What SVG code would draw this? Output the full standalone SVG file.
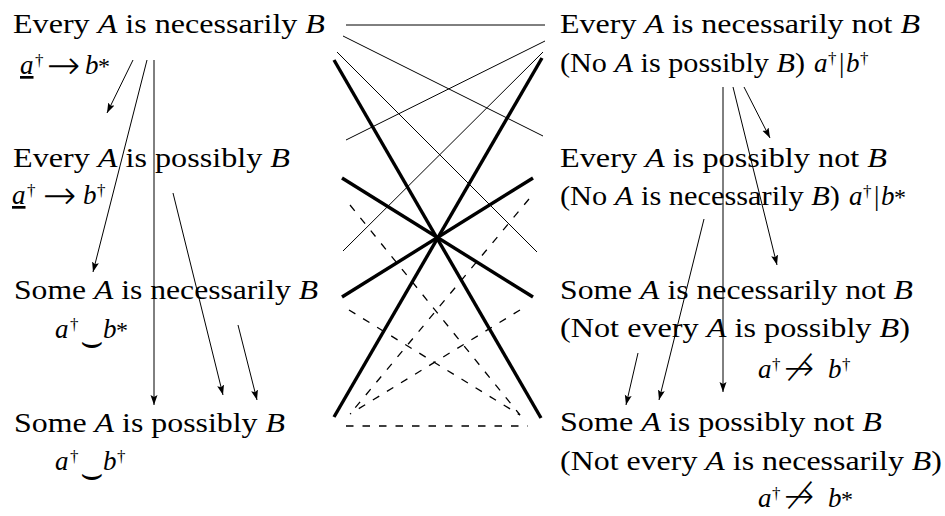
<svg xmlns="http://www.w3.org/2000/svg" width="945" height="516" viewBox="0 0 945 516" font-family="'Liberation Serif', serif">
<style>
.t{font-size:27px;fill:#000}
.i{font-style:italic}
.sup{font-size:17px;font-style:normal}
.ast{font-size:24px;font-style:normal}
.arr{font-size:40px;font-style:normal;font-weight:200}
.narr{font-size:36px;font-style:normal;font-weight:200}
.smile{font-size:36px;font-style:normal;font-weight:200}
.ln{stroke:#000;fill:none;stroke-width:1}
.thick{stroke-width:3.4}
.dash{stroke-width:1.3;stroke-dasharray:7.5 9}
.ar{marker-end:url(#ah)}
</style>
<defs>
<marker id="ah" markerUnits="userSpaceOnUse" markerWidth="11" markerHeight="8" refX="10" refY="3.5" orient="auto">
<path d="M0,0 L10,3.5 L0,7 L2,3.5 z" fill="#000"/>
</marker>
</defs>

<g id="node-every-nec" font-family="'Liberation Serif', serif">
<text class="t" x="13" y="33" textLength="312" lengthAdjust="spacingAndGlyphs">Every <tspan class="i">A</tspan> is necessarily <tspan class="i">B</tspan></text>
<text class="t"><tspan class="i" x="20" y="74" text-decoration="underline">a</tspan><tspan class="sup" x="35" y="66">†</tspan><tspan class="arr" font-family="'DejaVu Sans', sans-serif" x="47" y="79">→</tspan><tspan class="i" x="85" y="74">b</tspan><tspan class="ast" x="98" y="74">*</tspan></text>
</g>

<g id="node-every-poss" font-family="'Liberation Serif', serif">
<text class="t" x="13" y="167" textLength="277" lengthAdjust="spacingAndGlyphs">Every <tspan class="i">A</tspan> is possibly <tspan class="i">B</tspan></text>
<text class="t"><tspan class="i" x="12" y="204" text-decoration="underline">a</tspan><tspan class="sup" x="27" y="196">†</tspan><tspan class="arr" font-family="'DejaVu Sans', sans-serif" x="43" y="209">→</tspan><tspan class="i" x="83" y="204">b</tspan><tspan class="sup" x="97" y="196">†</tspan></text>
</g>

<g id="node-some-nec" font-family="'Liberation Serif', serif">
<text class="t" x="14" y="299" textLength="304" lengthAdjust="spacingAndGlyphs">Some <tspan class="i">A</tspan> is necessarily <tspan class="i">B</tspan></text>
<text class="t"><tspan class="i" x="55" y="338">a</tspan><tspan class="sup" x="70" y="330">†</tspan><tspan class="smile" font-family="'DejaVu Sans', sans-serif" x="80" y="353">⌣</tspan><tspan class="i" x="103" y="338">b</tspan><tspan class="ast" x="116" y="338">*</tspan></text>
</g>

<g id="node-some-poss" font-family="'Liberation Serif', serif">
<text class="t" x="14" y="432" textLength="271" lengthAdjust="spacingAndGlyphs">Some <tspan class="i">A</tspan> is possibly <tspan class="i">B</tspan></text>
<text class="t"><tspan class="i" x="55" y="470">a</tspan><tspan class="sup" x="70" y="462">†</tspan><tspan class="smile" font-family="'DejaVu Sans', sans-serif" x="80" y="485">⌣</tspan><tspan class="i" x="103" y="470">b</tspan><tspan class="sup" x="117" y="462">†</tspan></text>
</g>

<g id="node-every-nec-not" font-family="'Liberation Serif', serif">
<text class="t" x="560" y="33" textLength="360" lengthAdjust="spacingAndGlyphs">Every <tspan class="i">A</tspan> is necessarily not <tspan class="i">B</tspan></text>
<text class="t" x="560" y="72" textLength="245" lengthAdjust="spacingAndGlyphs">(No <tspan class="i">A</tspan> is possibly <tspan class="i">B</tspan>)</text>
<text class="t"><tspan class="i" x="814" y="72">a</tspan><tspan class="sup" x="828" y="64">†</tspan><tspan x="839" y="72">|</tspan><tspan class="i" x="846" y="72">b</tspan><tspan class="sup" x="860" y="64">†</tspan></text>
</g>

<g id="node-every-poss-not" font-family="'Liberation Serif', serif">
<text class="t" x="560" y="167" textLength="327" lengthAdjust="spacingAndGlyphs">Every <tspan class="i">A</tspan> is possibly not <tspan class="i">B</tspan></text>
<text class="t" x="560" y="205" textLength="280" lengthAdjust="spacingAndGlyphs">(No <tspan class="i">A</tspan> is necessarily <tspan class="i">B</tspan>)</text>
<text class="t"><tspan class="i" x="849" y="205">a</tspan><tspan class="sup" x="863" y="197">†</tspan><tspan x="874" y="205">|</tspan><tspan class="i" x="881" y="205">b</tspan><tspan class="ast" x="894" y="205">*</tspan></text>
</g>

<g id="node-some-nec-not" font-family="'Liberation Serif', serif">
<text class="t" x="560" y="299" textLength="353" lengthAdjust="spacingAndGlyphs">Some <tspan class="i">A</tspan> is necessarily not <tspan class="i">B</tspan></text>
<text class="t" x="560" y="337" textLength="350" lengthAdjust="spacingAndGlyphs">(Not every <tspan class="i">A</tspan> is possibly <tspan class="i">B</tspan>)</text>
<text class="t"><tspan class="i" x="758" y="378">a</tspan><tspan class="sup" x="772" y="370">†</tspan><tspan class="narr" font-family="'DejaVu Sans', sans-serif" x="784" y="380">↛</tspan><tspan class="i" x="828" y="378">b</tspan><tspan class="sup" x="842" y="370">†</tspan></text>
</g>

<g id="node-some-poss-not" font-family="'Liberation Serif', serif">
<text class="t" x="560" y="431" textLength="322" lengthAdjust="spacingAndGlyphs">Some <tspan class="i">A</tspan> is possibly not <tspan class="i">B</tspan></text>
<text class="t" x="560" y="470" textLength="382" lengthAdjust="spacingAndGlyphs">(Not every <tspan class="i">A</tspan> is necessarily <tspan class="i">B</tspan>)</text>
<text class="t"><tspan class="i" x="758" y="507">a</tspan><tspan class="sup" x="772" y="499">†</tspan><tspan class="narr" font-family="'DejaVu Sans', sans-serif" x="784" y="508">↛</tspan><tspan class="i" x="828" y="507">b</tspan><tspan class="ast" x="841" y="507">*</tspan></text>
</g>

<g id="connectors">
<line class="ln" x1="346" y1="25" x2="545" y2="25"/>
<line class="ln" x1="343" y1="36" x2="543" y2="136"/>
<line class="ln" x1="337" y1="52" x2="537" y2="252"/>
<line class="ln" x1="545" y1="41" x2="346" y2="140"/>
<line class="ln" x1="543" y1="52" x2="343" y2="251"/>
<line class="ln thick" x1="334" y1="60" x2="541" y2="418"/>
<line class="ln thick" x1="542" y1="58" x2="334" y2="417"/>
<line class="ln thick" x1="342" y1="178" x2="533" y2="297"/>
<line class="ln thick" x1="533" y1="178" x2="342" y2="297"/>
<line class="ln dash" x1="350" y1="205" x2="520" y2="415"/>
<line class="ln dash" x1="529" y1="199" x2="350" y2="414"/>
<line class="ln dash" x1="349" y1="310" x2="520" y2="415"/>
<line class="ln dash" x1="520" y1="310" x2="350" y2="414"/>
<line class="ln dash" x1="346" y1="426" x2="528" y2="426"/>
<line class="ln ar" x1="133" y1="60" x2="107" y2="113"/>
<line class="ln ar" x1="147" y1="60" x2="93" y2="272"/>
<line class="ln ar" x1="154" y1="60" x2="154" y2="405"/>
<line class="ln ar" x1="173" y1="193" x2="223" y2="395"/>
<line class="ln ar" x1="238" y1="325" x2="257" y2="400"/>
<line class="ln ar" x1="723" y1="87" x2="723" y2="392"/>
<line class="ln ar" x1="733" y1="87" x2="777" y2="265"/>
<line class="ln ar" x1="744" y1="87" x2="770" y2="138"/>
<line class="ln ar" x1="704" y1="219" x2="659" y2="400"/>
<line class="ln ar" x1="638" y1="353" x2="626" y2="405"/>
</g>
</svg>
